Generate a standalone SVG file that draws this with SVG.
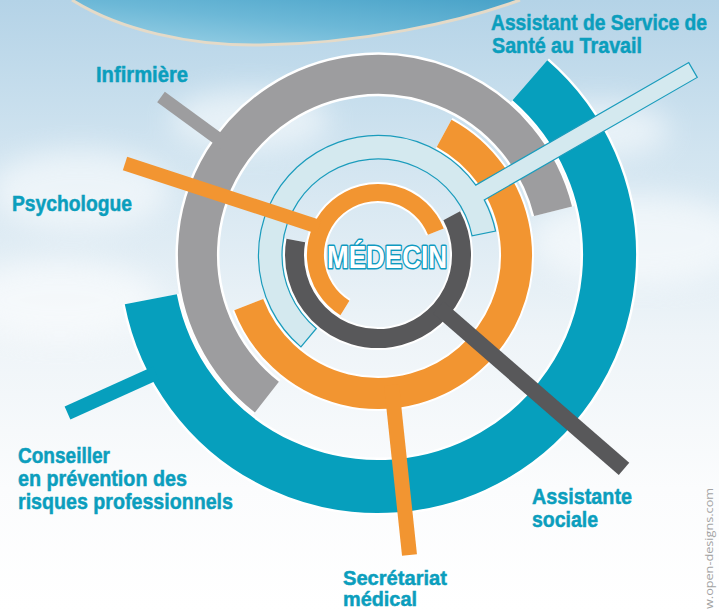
<svg xmlns="http://www.w3.org/2000/svg" width="719" height="611" viewBox="0 0 719 611">
<defs>
<linearGradient id="sky" x1="0" y1="0" x2="0" y2="1">
<stop offset="0" stop-color="#b4d3e7"/>
<stop offset="0.25" stop-color="#d1e4f0"/>
<stop offset="0.55" stop-color="#eef4f8"/>
<stop offset="0.8" stop-color="#fbfcfd"/>
<stop offset="1" stop-color="#ffffff"/>
</linearGradient>
<linearGradient id="banner" x1="0" y1="1" x2="1" y2="0">
<stop offset="0" stop-color="#9fd3e7"/>
<stop offset="0.5" stop-color="#6cb8d7"/>
<stop offset="1" stop-color="#48a2c8"/>
</linearGradient>
<filter id="blur" x="-50%" y="-50%" width="200%" height="200%">
<feGaussianBlur stdDeviation="14"/>
</filter>
<style>
.lbl{font-family:"Liberation Sans Narrow","Liberation Sans",Arial,sans-serif;font-weight:bold;font-size:22px;fill:#0b9ebd;stroke:#0b9ebd;stroke-width:0.5}
.halo{fill:none;stroke:#ffffff;stroke-linecap:butt}
.ring{fill:none;stroke-linecap:butt}
.teal{stroke:#069fbd}
.gray{stroke:#9d9d9f}
.orange{stroke:#f29531}
.dark{stroke:#58585a}
</style>
</defs>

<!-- background -->
<rect x="0" y="0" width="719" height="611" fill="url(#sky)"/>
<g filter="url(#blur)" fill="#ffffff" opacity="0.55">
<ellipse cx="80" cy="190" rx="90" ry="40"/>
<ellipse cx="640" cy="240" rx="110" ry="45"/>
<ellipse cx="250" cy="120" rx="80" ry="30"/>
<ellipse cx="600" cy="130" rx="70" ry="28"/>
<ellipse cx="60" cy="300" rx="100" ry="40"/>
</g>
<path d="M 72 0 C 120 30 190 46 260 45 C 360 44 460 22 520 0 Z" fill="url(#banner)"/>
<path d="M 72 0 C 120 30 190 46 260 45 C 360 44 460 22 520 0" fill="none" stroke="#e4dac8" stroke-width="3"/>

<!-- Conseiller (teal) -->
<g id="conseiller">
<path class="halo" stroke-width="58" d="M 529.9 80.3 A 231.5 231.5 0 1 1 150.8 299.2"/>
<path class="ring teal" stroke-width="53" d="M 529.9 80.3 A 231.5 231.5 0 1 1 150.8 299.2"/>
<line class="ring teal" stroke-width="14" x1="156" y1="373" x2="67.5" y2="413"/>
<text class="lbl" x="18" y="463" textLength="92" lengthAdjust="spacingAndGlyphs">Conseiller</text>
<text class="lbl" x="18" y="486" textLength="169" lengthAdjust="spacingAndGlyphs">en prévention des</text>
<text class="lbl" x="18" y="509" textLength="215" lengthAdjust="spacingAndGlyphs">risques professionnels</text>
</g>

<!-- Infirmière (gray) -->
<g id="infirmiere">
<path class="halo" stroke-width="44" d="M 266.9 397.2 A 180.5 180.5 0 1 1 553.1 211.3"/>
<path class="ring gray" stroke-width="39" d="M 266.9 397.2 A 180.5 180.5 0 1 1 553.1 211.3"/>
<line class="ring gray" stroke-width="13" x1="226" y1="144.5" x2="161" y2="97"/>
<text class="lbl" x="96" y="82" textLength="92" lengthAdjust="spacingAndGlyphs">Infirmière</text>
</g>

<!-- Secrétariat médical (orange big) -->
<g id="secretariat">
<path class="halo" stroke-width="35" d="M 444.1 133.3 A 138.5 138.5 0 1 1 248.7 304.6"/>
<path class="ring orange" stroke-width="31" d="M 444.1 133.3 A 138.5 138.5 0 1 1 248.7 304.6"/>
<line class="ring orange" stroke-width="15" x1="391.5" y1="385" x2="409.5" y2="555"/>
<text class="lbl" x="343" y="585" textLength="104" lengthAdjust="spacingAndGlyphs" style="font-size:21px">Secrétariat</text>
<text class="lbl" x="343" y="606" textLength="74" lengthAdjust="spacingAndGlyphs" style="font-size:21px">médical</text>
</g>

<!-- Assistant de Service de Santé au Travail (light blue) -->
<g id="assistant-sst">
<path d="M 300.9 346.9 A 120 120 0 1 1 475.75 185.1 L 688.75 62.6 L 697.25 77.4 L 484.25 199.9 A 120 120 0 0 1 495.6 231.1 L 472.1 235.9 A 96 96 0 1 0 316.3 328.5 Z" fill="#d4e9ef" stroke="#1a9cbc" stroke-width="1.2" stroke-linejoin="miter"/>
<text class="lbl" transform="translate(491,30) scale(0.875,1)" x="0" y="0">Assistant de Service de</text>
<text class="lbl" x="492" y="53" textLength="150" lengthAdjust="spacingAndGlyphs">Santé au Travail</text>
</g>

<!-- Assistante sociale (dark gray) -->
<g id="assistante-sociale">
<path class="halo" stroke-width="23" d="M 451.7 215.8 A 83.5 83.5 0 1 1 295.8 240.5"/>
<path class="ring dark" stroke-width="19" d="M 451.7 215.8 A 83.5 83.5 0 1 1 295.8 240.5"/>
<line class="ring dark" stroke-width="16" x1="438.4" y1="307.5" x2="624" y2="468.9"/>
<text class="lbl" x="532" y="504" textLength="100" lengthAdjust="spacingAndGlyphs">Assistante</text>
<text class="lbl" x="532" y="527" textLength="66" lengthAdjust="spacingAndGlyphs">sociale</text>
</g>

<!-- Psychologue (orange inner) -->
<g id="psychologue">
<path class="halo" stroke-width="21" d="M 344.9 308 A 62.5 62.5 0 1 1 435.9 231.6"/>
<path class="ring orange" stroke-width="17" d="M 344.9 308 A 62.5 62.5 0 1 1 435.9 231.6"/>
<line class="ring orange" stroke-width="14" x1="319" y1="227" x2="125" y2="163.5"/>
<text class="lbl" x="12" y="211" textLength="120" lengthAdjust="spacingAndGlyphs">Psychologue</text>
</g>

<!-- Médecin (center) -->
<g id="medecin">
<text x="327" y="268" textLength="120" lengthAdjust="spacingAndGlyphs" font-family="Liberation Sans Narrow,Liberation Sans,Arial,sans-serif" font-weight="bold" font-size="31" fill="#ffffff" stroke="#0f9ac0" stroke-width="3" paint-order="stroke fill" stroke-linejoin="round">MÉDECIN</text>
</g>

<!-- watermark -->
<text transform="translate(713,609) rotate(-90)" x="0" y="0" textLength="121" lengthAdjust="spacingAndGlyphs" font-family="Open Sans,Liberation Sans,sans-serif" font-size="11.5" fill="#a3a3a3">w.open-designs.com</text>
</svg>
